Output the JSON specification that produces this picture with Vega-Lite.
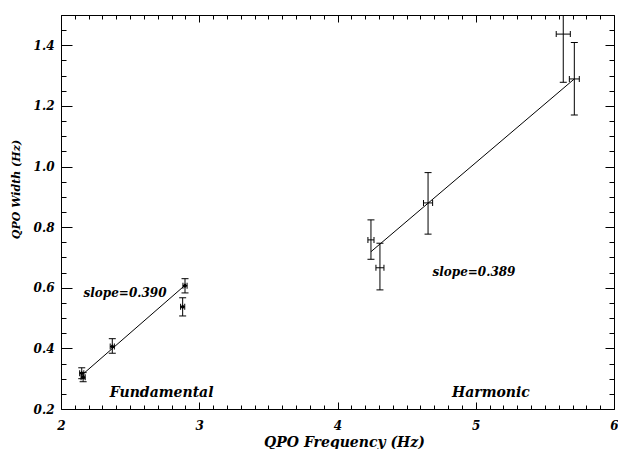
{
  "$schema": "https://vega.github.io/schema/vega-lite/v6.json",
  "width": 553,
  "height": 394,
  "autosize": {"type": "none"},
  "padding": {"left": 61, "top": 15, "right": 4, "bottom": 40},
  "background": "white",
  "config": {
    "view": {"stroke": null},
    "font": "DejaVu Serif",
    "axis": {
      "grid": false,
      "domainColor": "black",
      "domainWidth": 1,
      "tickColor": "black",
      "tickWidth": 1,
      "labelColor": "black",
      "labelFont": "DejaVu Serif",
      "labelFontSize": 12,
      "labelFontStyle": "italic",
      "labelFontWeight": "bold",
      "labelFlush": false,
      "labelOverlap": false,
      "titleColor": "black",
      "titleFont": "DejaVu Serif",
      "titleFontStyle": "italic",
      "titleFontWeight": "bold"
    }
  },
  "datasets": {
    "pts": [
      {"grp": "F", "x": 2.15, "y": 0.318, "xlo": 2.135, "xhi": 2.165, "ylo": 0.300, "yhi": 0.336},
      {"grp": "F", "x": 2.16, "y": 0.305, "xlo": 2.145, "xhi": 2.175, "ylo": 0.290, "yhi": 0.320},
      {"grp": "F", "x": 2.371, "y": 0.406, "xlo": 2.356, "xhi": 2.386, "ylo": 0.384, "yhi": 0.432},
      {"grp": "F", "x": 2.897, "y": 0.607, "xlo": 2.882, "xhi": 2.912, "ylo": 0.583, "yhi": 0.630},
      {"grp": "F", "x": 2.880, "y": 0.537, "xlo": 2.865, "xhi": 2.895, "ylo": 0.507, "yhi": 0.567},
      {"grp": "H", "x": 4.242, "y": 0.758, "xlo": 4.220, "xhi": 4.264, "ylo": 0.694, "yhi": 0.824},
      {"grp": "H", "x": 4.307, "y": 0.666, "xlo": 4.278, "xhi": 4.336, "ylo": 0.593, "yhi": 0.747},
      {"grp": "H", "x": 4.655, "y": 0.880, "xlo": 4.622, "xhi": 4.688, "ylo": 0.777, "yhi": 0.980},
      {"grp": "H", "x": 5.633, "y": 1.437, "xlo": 5.582, "xhi": 5.684, "ylo": 1.278, "yhi": 1.596},
      {"grp": "H", "x": 5.713, "y": 1.289, "xlo": 5.677, "xhi": 5.749, "ylo": 1.170, "yhi": 1.409}
    ],
    "fits": [
      {"fit": "F", "x": 2.166, "y": 0.318},
      {"fit": "F", "x": 2.904, "y": 0.611},
      {"fit": "H", "x": 4.242, "y": 0.719},
      {"fit": "H", "x": 5.713, "y": 1.289}
    ],
    "labels": [
      {"kind": "slope", "x": 2.463, "y": 0.584, "text": "slope=0.390"},
      {"kind": "slope", "x": 4.987, "y": 0.653, "text": "slope=0.389"},
      {"kind": "name", "x": 2.728, "y": 0.253, "text": "Fundamental"},
      {"kind": "name", "x": 5.11, "y": 0.253, "text": "Harmonic"}
    ]
  },
  "resolve": {"axis": {"x": "independent", "y": "independent"}},
  "layer": [
    {
      "data": {"name": "pts"},
      "mark": {"type": "rule", "color": "black", "strokeWidth": 1, "clip": true},
      "encoding": {
        "x": {
          "field": "x", "type": "quantitative",
          "scale": {"domain": [2, 6], "nice": false, "zero": false},
          "axis": {
            "orient": "bottom",
            "values": [2, 2.1, 2.2, 2.3, 2.4, 2.5, 2.6, 2.7, 2.8, 2.9, 3, 3.1, 3.2, 3.3, 3.4, 3.5, 3.6, 3.7, 3.8, 3.9, 4, 4.1, 4.2, 4.3, 4.4, 4.5, 4.6, 4.7, 4.8, 4.9, 5, 5.1, 5.2, 5.3, 5.4, 5.5, 5.6, 5.7, 5.8, 5.9, 6],
            "tickSize": {"condition": {"test": "abs(datum.value - round(datum.value)) < 0.001", "value": -7}, "value": -4},
            "labelExpr": "abs(datum.value - round(datum.value)) < 0.001 ? format(datum.value, 'd') : ''",
            "labelPadding": 18,
            "title": "QPO Frequency (Hz)",
            "titleFontSize": 14,
            "titleX": 283,
            "titleY": 26,
            "titleAlign": "center",
            "titleBaseline": "top"
          }
        },
        "y": {
          "field": "ylo", "type": "quantitative",
          "scale": {"domain": [0.2, 1.5], "nice": false, "zero": false},
          "axis": {
            "orient": "left",
            "values": [0.2, 0.25, 0.3, 0.35, 0.4, 0.45, 0.5, 0.55, 0.6, 0.65, 0.7, 0.75, 0.8, 0.85, 0.9, 0.95, 1.0, 1.05, 1.1, 1.15, 1.2, 1.25, 1.3, 1.35, 1.4, 1.45, 1.5],
            "tickSize": {"condition": {"test": "abs(datum.value*5 - round(datum.value*5)) < 0.001", "value": -11}, "value": -5},
            "labelExpr": "abs(datum.value*5 - round(datum.value*5)) < 0.001 ? format(datum.value, '.1f') : ''",
            "labelPadding": 18,
            "title": "QPO Width (Hz)",
            "titleFontSize": 11,
            "titleAngle": -90,
            "titleX": -45,
            "titleY": 174,
            "titleAlign": "center",
            "titleBaseline": "middle"
          }
        },
        "y2": {"field": "yhi"}
      }
    },
    {
      "data": {"name": "pts"},
      "mark": {"type": "rule", "color": "black", "strokeWidth": 1, "clip": true},
      "encoding": {
        "y": {
          "field": "y", "type": "quantitative",
          "axis": {
            "orient": "right",
            "values": [0.2, 0.25, 0.3, 0.35, 0.4, 0.45, 0.5, 0.55, 0.6, 0.65, 0.7, 0.75, 0.8, 0.85, 0.9, 0.95, 1.0, 1.05, 1.1, 1.15, 1.2, 1.25, 1.3, 1.35, 1.4, 1.45, 1.5],
            "tickSize": {"condition": {"test": "abs(datum.value*5 - round(datum.value*5)) < 0.001", "value": -9}, "value": -5},
            "labels": false,
            "title": null
          }
        },
        "x": {
          "field": "xlo", "type": "quantitative",
          "axis": {
            "orient": "top",
            "values": [2, 2.1, 2.2, 2.3, 2.4, 2.5, 2.6, 2.7, 2.8, 2.9, 3, 3.1, 3.2, 3.3, 3.4, 3.5, 3.6, 3.7, 3.8, 3.9, 4, 4.1, 4.2, 4.3, 4.4, 4.5, 4.6, 4.7, 4.8, 4.9, 5, 5.1, 5.2, 5.3, 5.4, 5.5, 5.6, 5.7, 5.8, 5.9, 6],
            "tickSize": {"condition": {"test": "abs(datum.value - round(datum.value)) < 0.001", "value": -7}, "value": -4},
            "labels": false,
            "title": null
          }
        },
        "x2": {"field": "xhi"}
      }
    },
    {
      "data": {"name": "pts"},
      "mark": {"type": "tick", "orient": "horizontal", "size": 7, "thickness": 1, "color": "black", "opacity": 1, "clip": true},
      "encoding": {
        "x": {"field": "x", "type": "quantitative", "axis": null},
        "y": {"field": "ylo", "type": "quantitative", "axis": null}
      }
    },
    {
      "data": {"name": "pts"},
      "mark": {"type": "tick", "orient": "horizontal", "size": 7, "thickness": 1, "color": "black", "opacity": 1, "clip": true},
      "encoding": {
        "x": {"field": "x", "type": "quantitative", "axis": null},
        "y": {"field": "yhi", "type": "quantitative", "axis": null}
      }
    },
    {
      "data": {"name": "pts"},
      "mark": {"type": "tick", "orient": "vertical", "size": 6, "thickness": 1, "color": "black", "opacity": 1, "clip": true},
      "encoding": {
        "x": {"field": "xlo", "type": "quantitative", "axis": null},
        "y": {"field": "y", "type": "quantitative", "axis": null}
      }
    },
    {
      "data": {"name": "pts"},
      "mark": {"type": "tick", "orient": "vertical", "size": 6, "thickness": 1, "color": "black", "opacity": 1, "clip": true},
      "encoding": {
        "x": {"field": "xhi", "type": "quantitative", "axis": null},
        "y": {"field": "y", "type": "quantitative", "axis": null}
      }
    },
    {
      "data": {"name": "pts"},
      "transform": [{"filter": "datum.grp == 'F'"}],
      "mark": {"type": "point", "shape": "diamond", "filled": true, "size": 22, "color": "black", "opacity": 1},
      "encoding": {
        "x": {"field": "x", "type": "quantitative", "axis": null},
        "y": {"field": "y", "type": "quantitative", "axis": null}
      }
    },
    {
      "data": {"name": "fits"},
      "mark": {"type": "line", "color": "black", "strokeWidth": 1},
      "encoding": {
        "x": {"field": "x", "type": "quantitative", "axis": null},
        "y": {"field": "y", "type": "quantitative", "axis": null},
        "detail": {"field": "fit"}
      }
    },
    {
      "data": {"name": "labels"},
      "transform": [{"filter": "datum.kind == 'slope'"}],
      "mark": {"type": "text", "font": "DejaVu Serif", "fontSize": 12, "fontStyle": "italic", "fontWeight": "bold", "color": "black", "align": "center", "baseline": "middle"},
      "encoding": {
        "x": {"field": "x", "type": "quantitative", "axis": null},
        "y": {"field": "y", "type": "quantitative", "axis": null},
        "text": {"field": "text"}
      }
    },
    {
      "data": {"name": "labels"},
      "transform": [{"filter": "datum.kind == 'name'"}],
      "mark": {"type": "text", "font": "DejaVu Serif", "fontSize": 14, "fontStyle": "italic", "fontWeight": "bold", "color": "black", "align": "center", "baseline": "middle"},
      "encoding": {
        "x": {"field": "x", "type": "quantitative", "axis": null},
        "y": {"field": "y", "type": "quantitative", "axis": null},
        "text": {"field": "text"}
      }
    }
  ]
}
